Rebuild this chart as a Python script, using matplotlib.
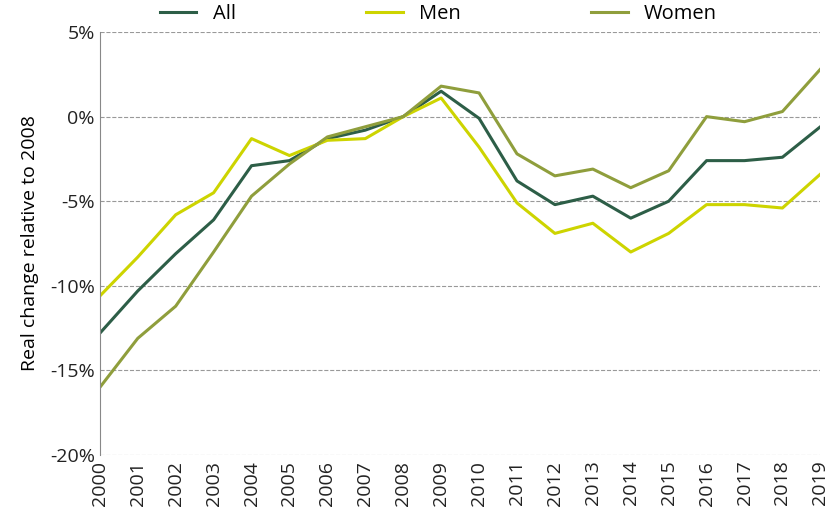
import matplotlib
matplotlib.use("Agg")
import matplotlib.pyplot as plt
from matplotlib.ticker import FuncFormatter

plt.rcParams["font.family"] = "Open Sans"

years = list(range(2000, 2020))
all_vals = [-12.8, -10.3, -8.1, -6.1, -2.9, -2.6, -1.3, -0.8, 0, 1.5, -0.1, -3.8, -5.2, -4.7, -6.0, -5.0, -2.6, -2.6, -2.4, -0.6]
men_vals = [-10.6, -8.3, -5.8, -4.5, -1.3, -2.3, -1.4, -1.3, 0, 1.1, -1.8, -5.1, -6.9, -6.3, -8.0, -6.9, -5.2, -5.2, -5.4, -3.4]
women_vals = [-16.0, -13.1, -11.2, -8.0, -4.7, -2.8, -1.2, -0.6, 0, 1.8, 1.4, -2.2, -3.5, -3.1, -4.2, -3.2, 0, -0.3, 0.3, 2.8]

fig = plt.figure(figsize=(8.32, 5.16), dpi=100)
ax = fig.add_axes([0.12, 0.118, 0.866, 0.82])

ax.plot(years, all_vals, color="#2d5e47", lw=2.2, label="All")
ax.plot(years, men_vals, color="#cdd400", lw=2.2, label="Men")
ax.plot(years, women_vals, color="#8f9e3c", lw=2.2, label="Women")

ax.set_xlim(2000, 2019)
ax.set_ylim(-20, 5)
ax.set_yticks(range(-20, 6, 5))
ax.yaxis.set_major_formatter(FuncFormatter(lambda v, p: f"{int(v)}%"))
ax.set_xticks(years)
ax.set_xticklabels([str(y) for y in years], rotation=90)
ax.grid(axis="y", color="#999999", linestyle="--", lw=0.8)
ax.set_axisbelow(True)
for s in ["top", "right", "bottom"]:
    ax.spines[s].set_visible(False)
ax.spines["left"].set_color("#888888")
ax.tick_params(axis="both", length=0, labelsize=14, colors="#222222")
ax.tick_params(axis="x", pad=4)
ax.set_ylabel("Real change relative to 2008", fontsize=14, labelpad=8)

ax.legend(loc="lower center", bbox_to_anchor=(0.47, 0.975), ncol=3, frameon=False,
          fontsize=14.5, columnspacing=6.5, handlelength=1.8)

fig.savefig("out.png", dpi=100)
